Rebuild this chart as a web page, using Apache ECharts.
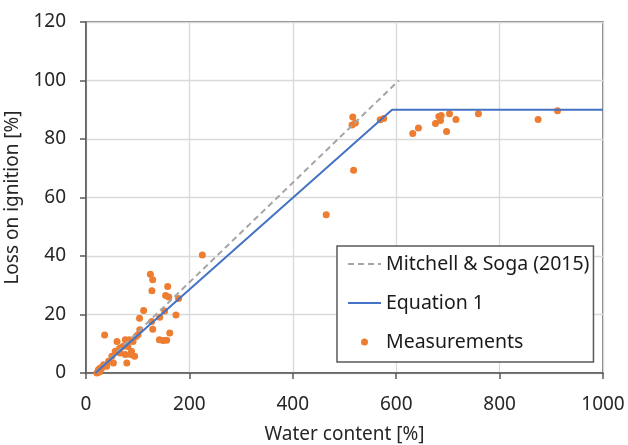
<!DOCTYPE html>
<html lang="en">
<head>
    <meta charset="UTF-8">
    <title>Loss on ignition vs water content</title>
    <script src="https://cdn.jsdelivr.net/npm/echarts@6/dist/echarts.min.js"></script>
    <style>
        body { margin: 0; background: #fff; }
        #chart { width: 628px; height: 445px; }
    </style>
</head>
<body>
<div id="chart"></div>
<script>
    // measured points: [water content %, loss on ignition %]
    var measurements = [
        [21, 0], [24, 1.1], [26, 0.3], [27.5, 1.7], [30, 1.5], [34, 2.8], [40, 2.3],
        [36, 13], [43.6, 4], [50, 5.7], [53, 3.4], [56.6, 7.4], [60, 10.8], [65, 8.5],
        [66, 6.8], [71, 9.1], [76, 6.3], [76, 11.4], [79, 3.4], [81, 9.1], [84, 11.4],
        [86, 6.3], [88, 7.4], [91, 10.8], [94, 5.7], [97, 12.5], [100.5, 13.1], [104, 14.8],
        [103.5, 18.7], [111.5, 21.4], [124.5, 33.8], [129, 31.9], [127.5, 28.1], [127, 17.6],
        [129, 15], [142, 11.4], [149, 11.1], [156, 11.2], [142.6, 19.1], [152, 21.2],
        [154, 26.5], [158, 29.6], [160, 26], [162, 13.7], [174, 19.8], [179, 25.5],
        [225, 40.3],
        [464.6, 54.1], [514.5, 84.8], [516, 87.5], [521, 85.5], [517.6, 69.3],
        [569, 86.6], [575.8, 87], [632, 81.9], [643, 83.8], [676, 85.3], [682.5, 87.7],
        [687, 88], [685.7, 86.3], [697.4, 82.6], [703, 88.6], [715.5, 86.7], [759, 88.6],
        [874.5, 86.7], [912, 89.7]
    ];
    var mitchellSoga = [[18, 0], [605, 100]];
    var equation1 = [[18, 0], [592, 90], [1000, 90]];
    var xTicks = [0, 200, 400, 600, 800, 1000];
    var yTicks = [0, 20, 40, 60, 80, 100, 120];

    var font = 'Noto Sans';
    var dark = '#595959';
    var chart = echarts.init(document.getElementById('chart'));

    var option = {
        animation: false,
        textStyle: { fontFamily: font },
        grid: {
            left: 86, right: 25, top: 22, bottom: 72,
            containLabel: false, outerBoundsMode: 'none',
            show: true, borderColor: dark, borderWidth: 1.5
        },
        legend: {
            orient: 'vertical',
            left: 337, top: 246,
            backgroundColor: '#fff',
            borderColor: dark, borderWidth: 1.5,
            padding: [8, 4, 10, 10],
            itemWidth: 33, itemHeight: 7, itemGap: 19,
            textStyle: { fontFamily: font, fontSize: 19.5, color: '#1a1a1a' },
            data: [
                { name: 'Mitchell & Soga (2015)', itemStyle: { opacity: 0 } },
                { name: 'Equation 1', itemStyle: { opacity: 0 } },
                { name: 'Measurements' }
            ]
        },
        xAxis: {
            type: 'value', min: xTicks[0], max: xTicks[xTicks.length - 1], interval: 200,
            name: 'Water content [%]', nameLocation: 'middle', nameGap: 52,
            nameTextStyle: { fontFamily: font, fontSize: 19, color: '#262626' },
            axisLine: { lineStyle: { color: dark, width: 1.5 } },
            axisTick: { show: true, length: 6, lineStyle: { color: dark, width: 1.5 } },
            axisLabel: { fontFamily: font, fontSize: 19, color: '#262626', margin: 22,
                formatter: function (v) { return String(v); } },
            splitLine: { lineStyle: { color: '#d9d9d9', width: 1.3 } }
        },
        yAxis: {
            type: 'value', min: yTicks[0], max: yTicks[yTicks.length - 1], interval: 20,
            name: 'Loss on ignition [%]', nameLocation: 'middle', nameGap: 62,
            nameTextStyle: { fontFamily: font, fontSize: 19, color: '#262626' },
            axisLine: { show: true, lineStyle: { color: dark, width: 1.5 } },
            axisTick: { show: true, length: 6, lineStyle: { color: dark, width: 1.5 } },
            axisLabel: { fontFamily: font, fontSize: 19, color: '#262626', margin: 20 },
            splitLine: { lineStyle: { color: '#d9d9d9', width: 1.3 } }
        },
        series: [
            {
                name: 'Mitchell & Soga (2015)', type: 'line', data: mitchellSoga,
                symbol: 'none', z: 3,
                lineStyle: { color: '#a5a5a5', width: 2, type: [6, 4] },
                itemStyle: { color: '#a5a5a5' }
            },
            {
                name: 'Equation 1', type: 'line', data: equation1,
                symbol: 'none', z: 3,
                lineStyle: { color: '#4472c4', width: 2 },
                itemStyle: { color: '#4472c4' }
            },
            {
                name: 'Measurements', type: 'scatter', data: measurements,
                symbolSize: 7, z: 2,
                itemStyle: { color: '#ed7d31', opacity: 1 }
            }
        ]
    };

    chart.setOption(option);
</script>
</body>
</html>
